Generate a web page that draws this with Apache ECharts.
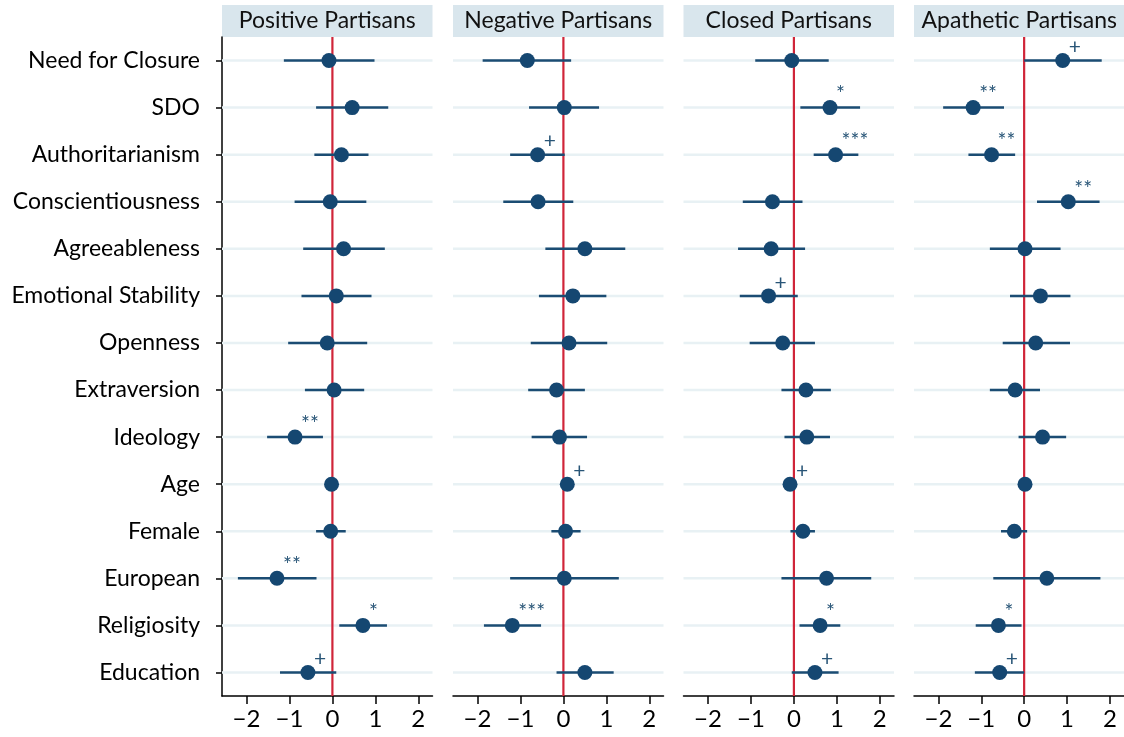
<!DOCTYPE html>
<html>
<head>
<meta charset="utf-8">
<script src="https://cdn.jsdelivr.net/npm/echarts@6/dist/echarts.min.js"></script>
<style>html,body{margin:0;padding:0;background:#fff}#chart{width:1124px;height:737px}</style>
</head>
<body>
<div id="chart"></div>
<script>
const categories = ['Need for Closure','SDO','Authoritarianism','Conscientiousness','Agreeableness','Emotional Stability','Openness','Extraversion','Ideology','Age','Female','European','Religiosity','Education'];
const panelTitles = ['Positive Partisans','Negative Partisans','Closed Partisans','Apathetic Partisans'];
const xTicks = [-2,-1,0,1,2];
const zeroLine = [0];

const positiveEst = [-0.08,0.46,0.21,-0.05,0.26,0.09,-0.12,0.04,-0.87,-0.02,-0.04,-1.29,0.71,-0.57];
const positiveLo  = [-1.13,-0.38,-0.42,-0.88,-0.68,-0.72,-1.03,-0.64,-1.52,-0.05,-0.38,-2.20,0.16,-1.22];
const positiveHi  = [0.98,1.30,0.84,0.79,1.22,0.91,0.81,0.74,-0.22,0.01,0.31,-0.37,1.27,0.09];
const positiveSig = ['','','','','','','','','**','','','**','*','+'];

const negativeEst = [-0.84,0.02,-0.60,-0.59,0.50,0.22,0.13,-0.16,-0.09,0.09,0.05,0.02,-1.19,0.50];
const negativeLo  = [-1.88,-0.80,-1.24,-1.40,-0.42,-0.57,-0.76,-0.82,-0.74,0.00,-0.28,-1.24,-1.85,-0.16];
const negativeHi  = [0.18,0.83,0.03,0.23,1.44,1.00,1.02,0.50,0.55,0.18,0.40,1.29,-0.52,1.17];
const negativeSig = ['','','+','','','','','','','+','','','***',''];

const closedEst = [-0.05,0.84,0.97,-0.50,-0.53,-0.59,-0.26,0.28,0.30,-0.09,0.21,0.76,0.61,0.49];
const closedLo  = [-0.90,0.15,0.46,-1.19,-1.30,-1.26,-1.03,-0.29,-0.22,-0.18,-0.08,-0.29,0.13,-0.05];
const closedHi  = [0.81,1.54,1.50,0.20,0.26,0.09,0.49,0.86,0.84,0.00,0.49,1.80,1.08,1.04];
const closedSig = ['','*','***','','','+','','','','+','','','*','+'];

const apatheticEst = [0.90,-1.19,-0.76,1.03,0.02,0.38,0.27,-0.21,0.43,0.02,-0.23,0.53,-0.60,-0.57];
const apatheticLo  = [0.00,-1.89,-1.30,0.30,-0.80,-0.33,-0.50,-0.80,-0.13,-0.01,-0.54,-0.72,-1.13,-1.15];
const apatheticHi  = [1.81,-0.47,-0.21,1.76,0.85,1.08,1.07,0.37,0.98,0.05,0.07,1.78,-0.06,0.00];
const apatheticSig = ['+','**','**','**','','','','','','','','','*','+'];

const panels = [
  {est: positiveEst, lo: positiveLo, hi: positiveHi, sig: positiveSig},
  {est: negativeEst, lo: negativeLo, hi: negativeHi, sig: negativeSig},
  {est: closedEst, lo: closedLo, hi: closedHi, sig: closedSig},
  {est: apatheticEst, lo: apatheticLo, hi: apatheticHi, sig: apatheticSig}
];

const FONT = 'Lato';
const DOT = '#154771';
const LINE = '#1b4c73';
const lefts = [222, 453, 683.5, 914];
const W = 210.5, TOP = 37, H = 659;

const chart = echarts.init(document.getElementById('chart'), null, {renderer: 'canvas'});
const grid = [], xAxis = [], yAxis = [], series = [], graphic = [];

panels.forEach((p, i) => {
  grid.push({left: lefts[i], top: TOP, width: W, height: H, containLabel: false});
  xAxis.push({
    type: 'value', gridIndex: i, min: -2.57, max: 2.33,
    axisLine: {show: true, onZero: false, lineStyle: {color: '#000', width: 1.5}},
    axisTick: {show: true, length: 8, lineStyle: {color: '#000', width: 1.5}, customValues: xTicks},
    axisLabel: {show: true, customValues: xTicks, fontFamily: FONT, fontSize: 24, color: '#000', margin: 11,
      formatter: v => v < 0 ? '\u2212' + Math.abs(v) : String(v)},
    splitLine: {show: false}
  });
  yAxis.push({
    type: 'category', gridIndex: i, data: categories, inverse: true, boundaryGap: true, position: 'left',
    axisLine: {show: i === 0, onZero: false, lineStyle: {color: '#000', width: 1.5}},
    axisTick: {show: i === 0, alignWithLabel: true, length: 6, lineStyle: {color: '#000', width: 1.5}},
    axisLabel: {show: i === 0, fontFamily: FONT, fontSize: 23, color: '#000', margin: 22},
    splitLine: {show: false}
  });
  // light gridlines at each category
  series.push({
    type: 'custom', xAxisIndex: i, yAxisIndex: i, z: 1, silent: true,
    data: categories.map((c, k) => [0, k]),
    renderItem: (params, api) => {
      const cs = params.coordSys;
      const y = api.coord([0, api.value(1)])[1];
      return {type: 'line', shape: {x1: cs.x, y1: y, x2: cs.x + cs.width, y2: y},
        style: {stroke: '#e8f1f4', lineWidth: 2.5, fill: null}};
    }
  });
  // zero reference line
  series.push({
    type: 'custom', xAxisIndex: i, yAxisIndex: i, z: 2, silent: true,
    data: zeroLine.map(v => [v, 0]),
    renderItem: (params, api) => {
      const cs = params.coordSys;
      const x = api.coord([api.value(0), 0])[0];
      return {type: 'line', shape: {x1: x, y1: cs.y, x2: x, y2: cs.y + cs.height},
        style: {stroke: '#d02539', lineWidth: 2.2, fill: null}};
    }
  });
  // confidence intervals
  series.push({
    type: 'custom', xAxisIndex: i, yAxisIndex: i, z: 3, silent: true,
    data: categories.map((c, k) => [p.lo[k], p.hi[k], k]),
    renderItem: (params, api) => {
      const a = api.coord([api.value(0), api.value(2)]);
      const b = api.coord([api.value(1), api.value(2)]);
      return {type: 'line', shape: {x1: a[0], y1: a[1], x2: b[0], y2: b[1]},
        style: {stroke: LINE, lineWidth: 2.5, fill: null}};
    }
  });
  // point estimates
  series.push({
    type: 'scatter', xAxisIndex: i, yAxisIndex: i, z: 4, symbol: 'circle', symbolSize: 15,
    itemStyle: {color: DOT, opacity: 1},
    label: {show: false},
    data: categories.map((c, k) => [p.est[k], k])
  });
  // significance markers
  series.push({
    type: 'custom', xAxisIndex: i, yAxisIndex: i, z: 5, silent: true,
    data: categories.map((c, k) => [p.est[k], k]),
    renderItem: (params, api) => {
      const s = p.sig[params.dataIndex];
      if (!s) return null;
      const pt = api.coord([api.value(0), api.value(1)]);
      return {type: 'text', x: pt[0] + 6, y: pt[1] - 13,
        style: {text: s, fontFamily: FONT, fontSize: 21, fill: '#285577', align: 'left', verticalAlign: 'middle'}};
    }
  });
  graphic.push({type: 'rect', left: lefts[i], top: 5, shape: {width: W, height: 32},
    style: {fill: '#d9e6ed'}, silent: true});
  graphic.push({type: 'text', x: lefts[i] + W / 2, y: 21, silent: true,
    style: {text: panelTitles[i], fontFamily: FONT, fontSize: 23, fill: '#111', align: 'center', verticalAlign: 'middle'}});
});

chart.setOption({animation: false, grid, xAxis, yAxis, series, graphic});
</script>
</body>
</html>
